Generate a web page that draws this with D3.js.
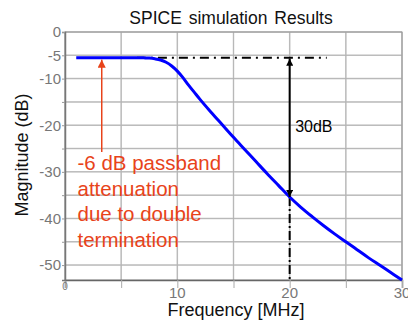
<!DOCTYPE html>
<html>
<head>
<meta charset="utf-8">
<script src="https://cdn.jsdelivr.net/npm/d3@7"></script>
<style>
body{margin:0;background:#fff;}
svg{display:block;font-family:"Liberation Sans",Arial,sans-serif;}
</style>
</head>
<body>
<svg id="chart" width="408" height="320"></svg>
<script>
const freq = [1,2,3,4,5,6,7,7.5,8,8.5,9,9.5,10,10.5,11,11.5,12,13,14,15,16,17,18,19,20,21,22,23,24,25,26,27,28,29,30];
const mag  = [-5.5,-5.5,-5.5,-5.5,-5.5,-5.5,-5.55,-5.6,-5.75,-6.0,-6.5,-7.3,-8.4,-9.8,-11.4,-12.9,-14.4,-17.2,-19.9,-22.6,-25.2,-27.8,-30.4,-32.9,-35.4,-37.6,-39.6,-41.5,-43.3,-45.0,-46.7,-48.4,-50.0,-51.6,-53.2];
const xTickLabels = [0,10,20,30];
const yTickLabels = [0,-5,-10,-20,-30,-40,-50];
const xGrid = [0,5,10,15,20,25,30];
const yGrid = [0,-5,-10,-15,-20,-25,-30,-35,-40,-45,-50];
const passLevel = -5.5;       // dB, passband level
const markFreq = 20;          // MHz, marker frequency
const markLevel = -35.4;      // dB at 20 MHz
const noteLines = ["-6 dB passband","attenuation","due to double","termination"];

const svg = d3.select("#chart");
const L = 65, R = 402, T = 32, B = 280;
const x = d3.scaleLinear().domain([0,30]).range([L,R]);
const y = d3.scaleLinear().domain([-53.2,0]).range([B,T]);

// grid
const g = svg.append("g");
g.selectAll(".vg").data(xGrid).enter().append("line")
  .attr("x1",d=>x(d)).attr("x2",d=>x(d)).attr("y1",T).attr("y2",B)
  .attr("stroke","#c8c8c8").attr("stroke-width",1.5);
g.selectAll(".hg").data(yGrid).enter().append("line")
  .attr("x1",L).attr("x2",R).attr("y1",d=>y(d)).attr("y2",d=>y(d))
  .attr("stroke","#c8c8c8").attr("stroke-width",1.5);
// thin darker centres
g.selectAll(".vg2").data(xGrid).enter().append("line")
  .attr("x1",d=>x(d)).attr("x2",d=>x(d)).attr("y1",T).attr("y2",B)
  .attr("stroke","#a8a8a8").attr("stroke-width",0.5);
g.selectAll(".hg2").data(yGrid).enter().append("line")
  .attr("x1",L).attr("x2",R).attr("y1",d=>y(d)).attr("y2",d=>y(d))
  .attr("stroke","#a8a8a8").attr("stroke-width",0.5);

// border
svg.append("rect").attr("x",L).attr("y",T).attr("width",R-L).attr("height",B-T)
  .attr("fill","none").attr("stroke","#999").attr("stroke-width",1);

// axes
const xAxis = d3.axisBottom(x).tickValues(xGrid).tickSize(8).tickFormat("");
const gx = svg.append("g").attr("transform",`translate(0,${B})`).call(xAxis);
gx.select(".domain").attr("stroke","#666").attr("stroke-width",1.5);
gx.selectAll(".tick line").attr("stroke","#aaa");
const yAxis = d3.axisLeft(y).tickValues(yGrid).tickSize(3).tickFormat("");
const gy = svg.append("g").attr("transform",`translate(${L},0)`).call(yAxis);
gy.select(".domain").attr("stroke","#777").attr("stroke-width",1.5);
gy.selectAll(".tick line").attr("stroke","#999");

// tick labels
svg.selectAll(".xl").data(xTickLabels).enter().append("text")
  .attr("x",d=>x(d)).attr("y",d=>d===0?290:298)
  .attr("text-anchor","middle").attr("fill","#777")
  .attr("font-size",d=>d===0?10:15).text(d=>d);
svg.selectAll(".yl").data(yTickLabels).enter().append("text")
  .attr("x",L-4).attr("y",d=>y(d)).attr("dy","0.36em")
  .attr("text-anchor","end").attr("fill","#777").attr("font-size",15).text(d=>d);

// titles
svg.append("text").attr("x",231).attr("y",24).attr("text-anchor","middle")
  .attr("font-size",17.5).attr("word-spacing",2).attr("fill","#111").text("SPICE simulation Results");
svg.append("text").attr("x",236).attr("y",316).attr("text-anchor","middle")
  .attr("font-size",18).attr("fill","#111").text("Frequency [MHz]");
svg.append("text").attr("transform","translate(28,155) rotate(-90)").attr("text-anchor","middle")
  .attr("font-size",18).attr("fill","#111").text("Magnitude (dB)");

// markers
const defs = svg.append("defs");
defs.append("marker").attr("id","ab").attr("viewBox","0 0 10 10").attr("refX",10).attr("refY",5)
  .attr("markerWidth",10).attr("markerHeight",7).attr("markerUnits","userSpaceOnUse").attr("orient","auto-start-reverse")
  .append("path").attr("d","M0,0L10,5L0,10Z").attr("fill","#000");
defs.append("marker").attr("id","ar").attr("viewBox","0 0 10 10").attr("refX",10).attr("refY",5)
  .attr("markerWidth",10).attr("markerHeight",8).attr("markerUnits","userSpaceOnUse").attr("orient","auto")
  .append("path").attr("d","M0,0L10,5L0,10Z").attr("fill","#e8431a");

// dash-dot horizontal line
svg.append("line").attr("x1",x(6.4)).attr("x2",x(23.3)).attr("y1",y(passLevel)).attr("y2",y(passLevel))
  .attr("stroke","#000").attr("stroke-width",2).attr("stroke-dasharray","9,5,2,5");
// dash-dot vertical below the curve
svg.append("line").attr("x1",x(markFreq)).attr("x2",x(markFreq)).attr("y1",y(markLevel)).attr("y2",B)
  .attr("stroke","#000").attr("stroke-width",2).attr("stroke-dasharray","9,3,2,3");

// curve
const line = d3.line().x(d=>x(d[0])).y(d=>y(d[1])).curve(d3.curveMonotoneX);
svg.append("path").datum(freq.map((f,i)=>[f,mag[i]])).attr("d",line)
  .attr("fill","none").attr("stroke","#0000ff").attr("stroke-width",3);

// double arrow 30dB
svg.append("line").attr("x1",x(markFreq)).attr("x2",x(markFreq))
  .attr("y1",y(passLevel)+1).attr("y2",y(markLevel))
  .attr("stroke","#000").attr("stroke-width",2)
  .attr("marker-start","url(#ab)").attr("marker-end","url(#ab)");
svg.append("text").attr("x",x(markFreq)+5.5).attr("y",131.5).attr("font-size",16).attr("fill","#000").text("30dB");

// red arrow
svg.append("line").attr("x1",x(3.27)).attr("x2",x(3.27)).attr("y1",152).attr("y2",y(passLevel)+2)
  .attr("stroke","#e8431a").attr("stroke-width",1.5).attr("marker-end","url(#ar)");
svg.selectAll(".note").data(noteLines).enter().append("text")
  .attr("x",77.5).attr("y",(d,i)=>170+i*25.7)
  .attr("font-size",20.5).attr("fill","#e8431a").text(d=>d);
</script>
</body>
</html>
